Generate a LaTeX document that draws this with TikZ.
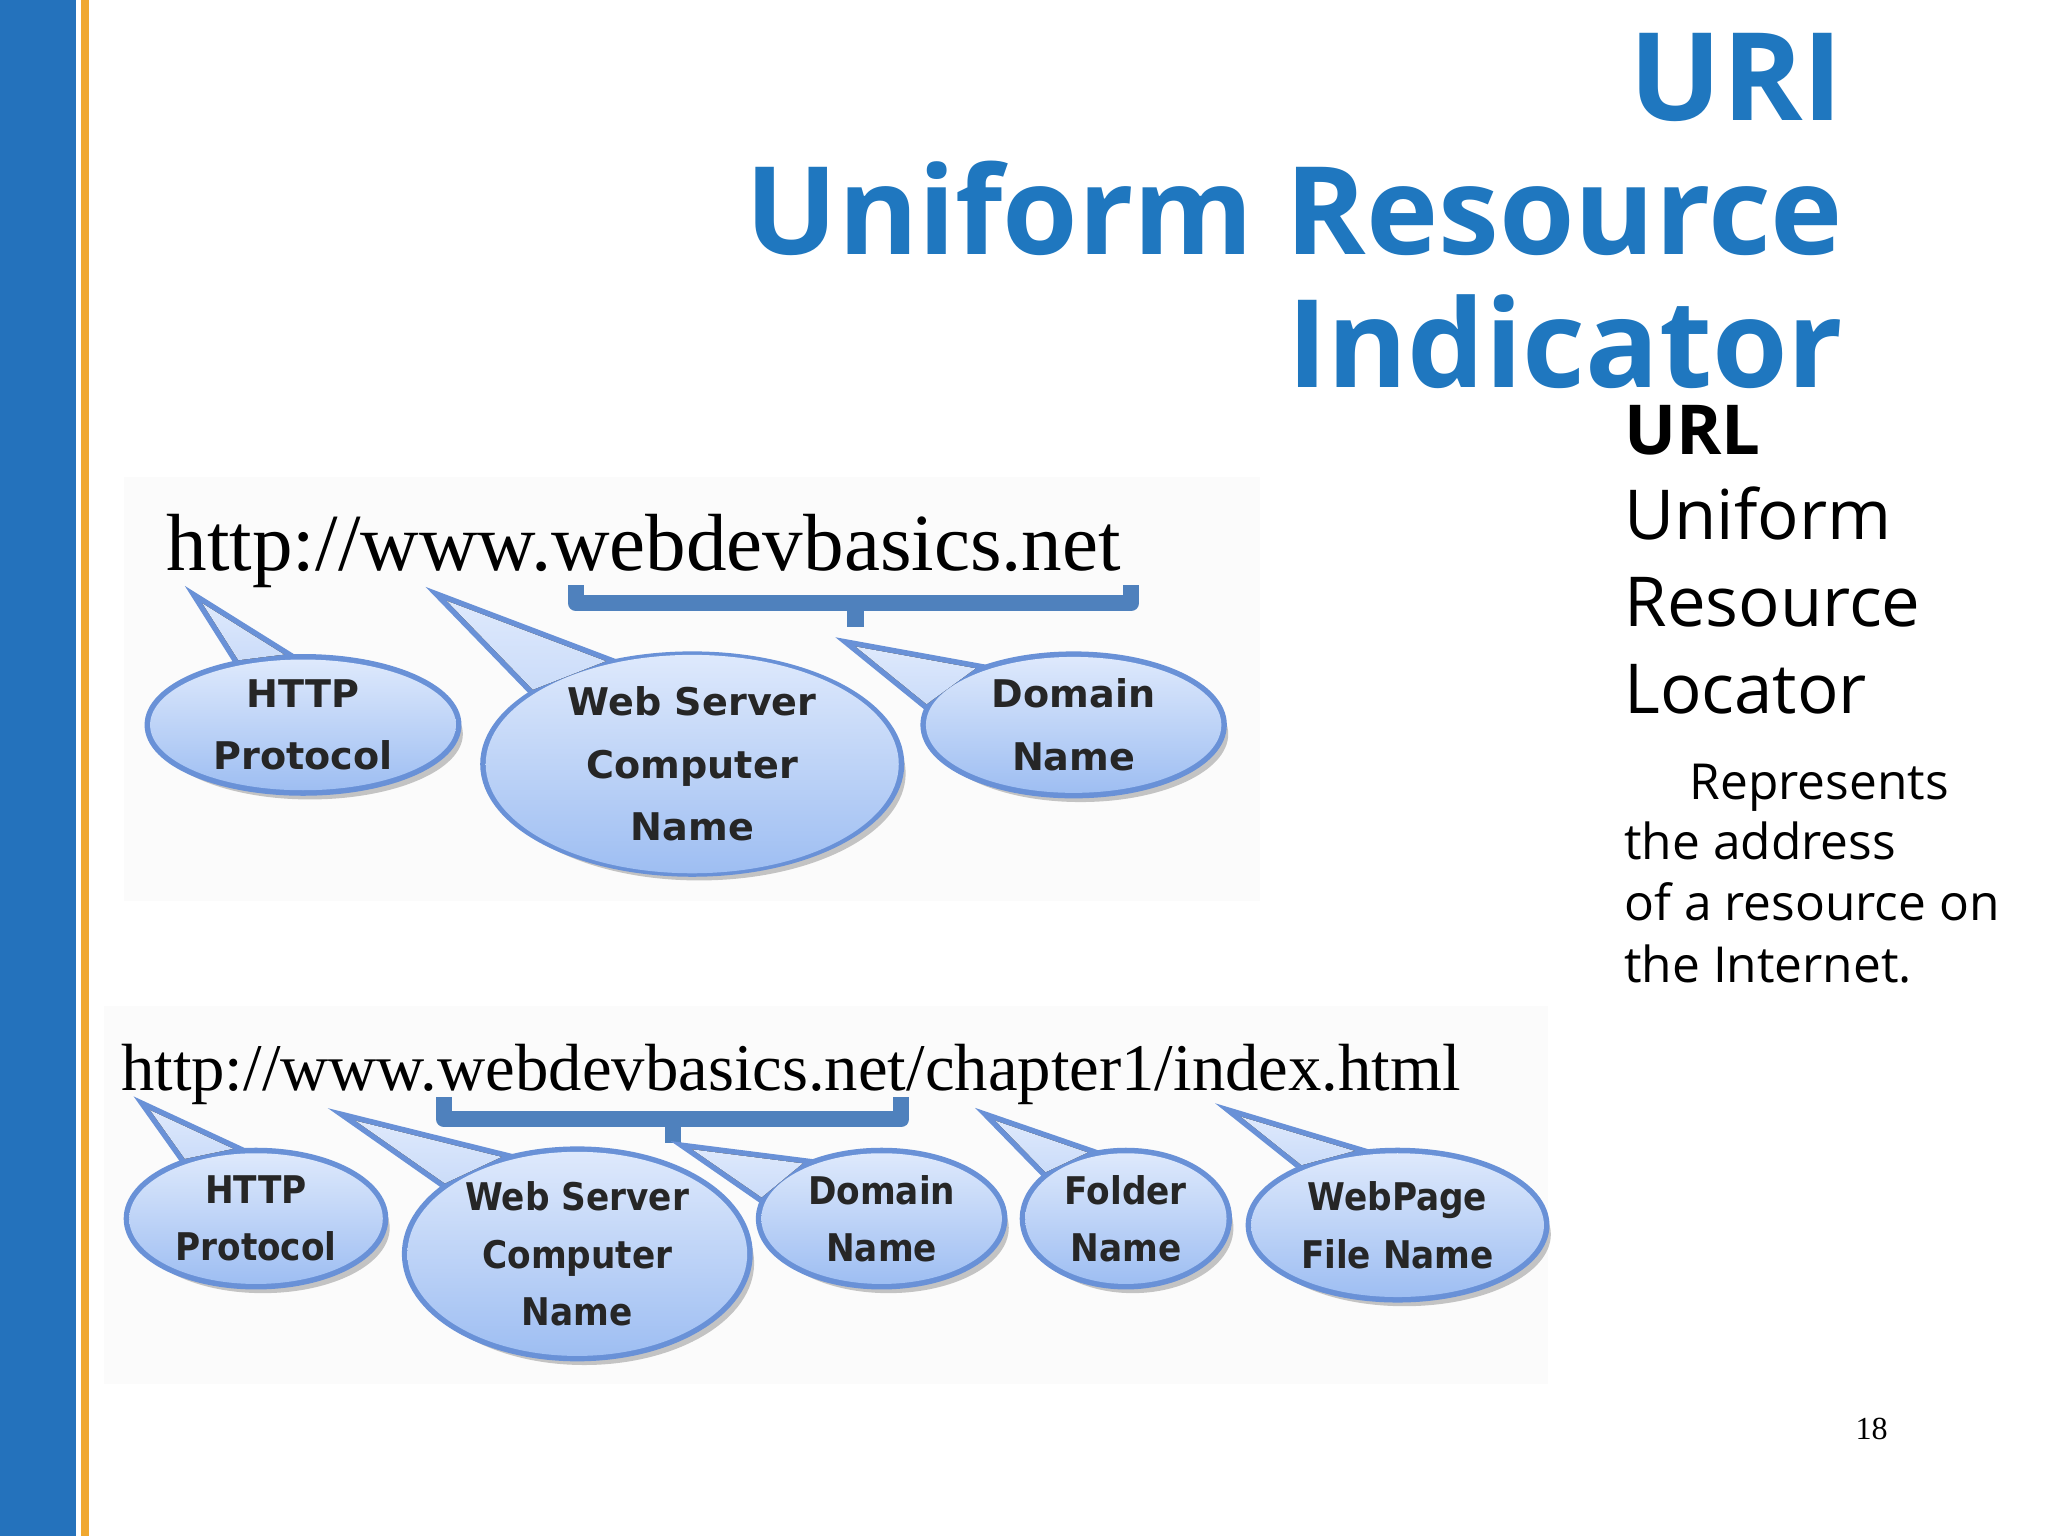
\documentclass[tikz,border=0pt]{standalone}
\usepackage{fontspec}
\usepackage{graphicx}
\setmainfont{Open Sans}
\newfontfamily\urlfont{Liberation Serif}
\newfontfamily\balfont{DejaVu Sans}
\newfontfamily\balcfont{DejaVu Sans Condensed}
\usetikzlibrary{shapes.geometric,shadows}
\definecolor{titleblue}{RGB}{31,119,191}
\definecolor{barblue}{RGB}{36,114,188}
\definecolor{barorange}{RGB}{240,168,48}
\definecolor{brblue}{RGB}{79,129,189}
\definecolor{balline}{RGB}{105,145,215}
\definecolor{baltop}{RGB}{222,233,252}
\definecolor{balbot}{RGB}{158,190,242}
\tikzset{
  balstroke/.style={ellipse, draw=balline, line width=2.4pt, inner sep=0pt,
     drop shadow={shadow xshift=1.5pt, shadow yshift=-2pt, fill=black!45, opacity=0.5}},
  balfill/.style={ellipse, top color=baltop, bottom color=balbot, inner sep=0pt, align=center, text=black!85},
  tailstroke/.style={draw=balline, line width=2.4pt, line join=miter},
  tailfill/.style={top color=baltop, bottom color=baltop!70!balbot},
  bracket/.style={draw=brblue, line width=3.5pt, line join=round},
  fa/.style={font=\balfont\bfseries\fontsize{8.3pt}{13.6pt}\selectfont},
  fb/.style={font=\balcfont\bfseries\fontsize{8.3pt}{12.5pt}\selectfont},
  tt/.style={anchor=base east, text=titleblue, font=\fontsize{26.6pt}{29pt}\selectfont\bfseries, inner sep=0},
  sb/.style={anchor=base west, font=\fontsize{15pt}{17pt}\selectfont, inner sep=0},
  sc/.style={anchor=base west, font=\fontsize{10.8pt}{13pt}\selectfont, inner sep=0},
}
\newcommand{\mkballoon}[9]{% name, center, rx, ry, tip, a1, a2, style, text
  \node[balstroke, minimum width=#3*0.02cm, minimum height=#4*0.02cm] (#1) at (#2) {};
  \coordinate (#1t) at (#5);
  \draw[tailstroke] (#1t) -- (#1.#6) -- (#1.#7) -- cycle;
  \fill[tailfill] (#1t) -- (#1.#6) -- (#1.#7) -- cycle;
  \node[balfill, #8, minimum width=#3*0.02cm, minimum height=#4*0.02cm] (#1f) at (#2) {#9};
}
\begin{document}
\begin{tikzpicture}[x=0.01cm,y=-0.01cm]
\useasboundingbox (0,0) rectangle (1568,1176);
\fill[white] (0,0) rectangle (1568,1176);
\fill[barblue] (0,0) rectangle (58,1176);
\fill[barorange] (62,0) rectangle (68,1176);

% title
\node[tt] (t1) at (1412,92) {URI};
\node[tt] (t2) at (1412,195) {Uniform Resource};
\node[tt] (t3) at (1412,297) {Indicator};

% side text
\node[sb, font=\fontsize{15pt}{17pt}\selectfont\bfseries] (s0) at (1243,348) {URL};
\node[sb] (s1) at (1243,413) {Uniform};
\node[sb] (s2) at (1243,480) {Resource};
\node[sb] (s3) at (1243,546) {Locator};
\node[sc] (r1) at (1293,612) {Represents};
\node[sc] (r2) at (1243,658) {the address};
\node[sc] (r3) at (1243,705) {of a resource on};
\node[sc] (r4) at (1243,752) {the Internet.};

\node[anchor=base west, font=\urlfont\fontsize{7pt}{8pt}\selectfont, inner sep=0] (pg) at (1420,1102) {18};

% ---- diagram 1
\fill[black!1.5] (95,365) rectangle (965,690);
\node[anchor=base west, inner sep=0] (u1) at (127,437) {\resizebox{7.3cm}{!}{\urlfont http://www.webdevbasics.net}};
\coordinate (b1a) at (441,448);
\coordinate (b1b) at (866,448);
\coordinate (b1m) at (655,462);
\coordinate (b1t) at (655,480);
\draw[bracket] (b1a) -- (441,462) -- (b1b |- b1m) -- (b1b);
\draw[bracket] (b1m) -- (b1t);

\mkballoon{a1}{232,555}{117}{50}{155,462}{105}{135}{fa}{HTTP\\Protocol}
\mkballoon{a2}{530,585}{158}{82}{342,460}{130}{155}{fa}{Web Server\\Computer\\Name}
\mkballoon{a3}{822,555}{113}{52}{655,495}{150}{172}{fa}{Domain\\Name}

% ---- diagram 2
\fill[black!1.5] (80,770) rectangle (1185,1060);
\node[anchor=base west, inner sep=0] (u2) at (92,835) {\resizebox{10.25cm}{!}{\urlfont http://www.webdevbasics.net/chapter1/index.html}};
\coordinate (b2a) at (340,840);
\coordinate (b2b) at (690,840);
\coordinate (b2m) at (515,857);
\coordinate (b2t) at (515,875);
\draw[bracket] (b2a) -- (340,857) -- (b2b |- b2m) -- (b2b);
\draw[bracket] (b2m) -- (b2t);

\mkballoon{c1}{196,933}{97}{50}{115,850}{108}{140}{fb}{HTTP\\Protocol}
\mkballoon{c2}{442,960}{130}{78}{272,858}{128}{152}{fb}{Web Server\\Computer\\Name}
\mkballoon{c3}{675,933}{92}{50}{530,880}{145}{170}{fb}{Domain\\Name}
\mkballoon{c4}{862,933}{77}{50}{762,858}{120}{150}{fb}{Folder\\Name}
\mkballoon{c5}{1070,938}{112}{55}{950,855}{120}{148}{fb}{WebPage\\File Name}
\end{tikzpicture}
\end{document}
